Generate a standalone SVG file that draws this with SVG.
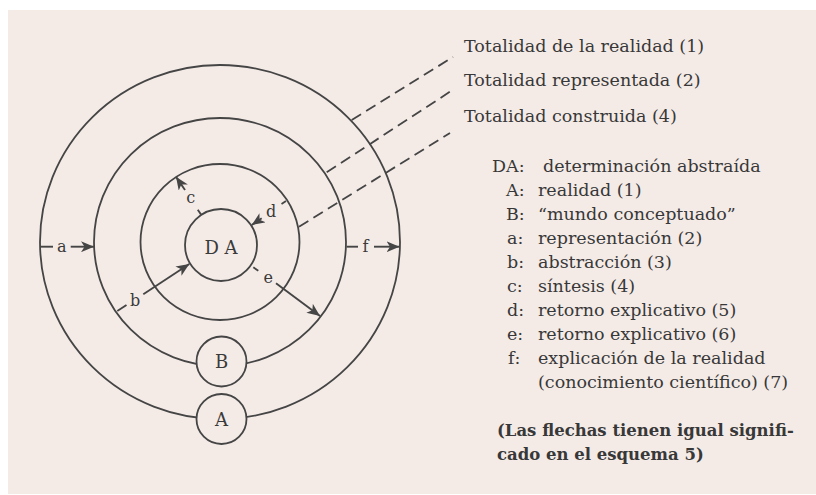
<svg xmlns="http://www.w3.org/2000/svg" width="816" height="495" viewBox="0 0 816 495">
<style>
.ring{fill:none;stroke:#454545;stroke-width:1.8}
.node{fill:#f4ebe7;stroke:#454545;stroke-width:1.8}
.lbl{font-family:"DejaVu Serif","Liberation Serif",serif;font-size:18px;fill:#3a3a3a;text-anchor:middle}
.conn{stroke:#454545;stroke-width:1.9;fill:none}
.dash{stroke:#454545;stroke-width:1.8;fill:none;stroke-dasharray:11 6}
.small{font-family:"DejaVu Serif","Liberation Serif",serif;font-size:16px;fill:#3a3a3a;text-anchor:middle}
.txt{font-family:"DejaVu Serif","Liberation Serif",serif;font-size:17.5px;fill:#383838}
.bold{font-family:"DejaVu Serif","Liberation Serif",serif;font-size:16.5px;font-weight:bold;fill:#383838}
</style>
<defs>
<marker id="ah" markerUnits="userSpaceOnUse" markerWidth="14" markerHeight="11" refX="13" refY="5.5" orient="auto">
<path d="M0,0 L13,5.5 L0,11 L3.5,5.5 z" fill="#454545"/>
</marker>
</defs>
<rect x="0" y="0" width="816" height="495" fill="#ffffff"/>
<rect x="8" y="10" width="808" height="484" fill="#f4ebe7"/>

<g id="ring-outer"><ellipse class="ring" cx="220" cy="242" rx="180" ry="177"/></g>
<g id="ring-second"><ellipse class="ring" cx="220" cy="242" rx="126" ry="124"/></g>
<g id="ring-third"><ellipse class="ring" cx="220" cy="242" rx="79.5" ry="78"/></g>

<g id="connectors">
<line class="dash" x1="351.7" y1="120" x2="453" y2="57"/>
<line class="dash" x1="326.7" y1="172.3" x2="450" y2="91.7"/>
<line class="dash" x1="299" y1="226.7" x2="450" y2="133"/>
<line class="conn" x1="40.7" y1="246.7" x2="53" y2="246.7"/>
<line class="conn" x1="70.7" y1="246.7" x2="94" y2="246.7" marker-end="url(#ah)"/>
<line class="conn" x1="346.5" y1="246.7" x2="358" y2="246.7"/>
<line class="conn" x1="374" y1="246.7" x2="399.5" y2="246.7" marker-end="url(#ah)"/>
<line class="conn" x1="117.3" y1="311" x2="126.5" y2="305"/>
<line class="conn" x1="143.3" y1="294.3" x2="189.3" y2="264" marker-end="url(#ah)"/>
<line class="conn" x1="201" y1="214.5" x2="197.8" y2="209.8"/>
<line class="conn" x1="185" y1="190" x2="176" y2="176.7" marker-end="url(#ah)"/>
<line class="conn" x1="286" y1="201" x2="281.5" y2="204"/>
<line class="conn" x1="261.7" y1="218.3" x2="251.7" y2="225" marker-end="url(#ah)"/>
<line class="conn" x1="253.3" y1="267.3" x2="258.3" y2="270.7"/>
<line class="conn" x1="276" y1="283.3" x2="320" y2="316" marker-end="url(#ah)"/>
<text class="small" x="61.7" y="251.5">a</text>
<text class="small" x="365.5" y="251.5">f</text>
<text class="small" x="135" y="305.5">b</text>
<text class="small" x="190.7" y="203">c</text>
<text class="small" x="271" y="217">d</text>
<text class="small" x="268.3" y="283">e</text>
</g>

<g id="node-DA"><circle class="node" cx="221" cy="245" r="36"/><text class="lbl" x="221" y="254">D A</text></g>
<g id="node-B"><circle class="node" cx="221.5" cy="361.5" r="25"/><text class="lbl" x="221.5" y="368">B</text></g>
<g id="node-A"><circle class="node" cx="221.5" cy="419" r="25"/><text class="lbl" x="221.5" y="425.5">A</text></g>

<g id="totalities">
<text class="txt" x="464" y="52">Totalidad de la realidad (1)</text>
<text class="txt" x="464" y="86">Totalidad representada (2)</text>
<text class="txt" x="464" y="122">Totalidad construida (4)</text>
</g>

<g id="legend">
<text class="txt" x="492" y="172">DA:</text><text class="txt" x="543" y="172">determinación abstraída</text>
<text class="txt" x="506" y="196">A:</text><text class="txt" x="538" y="196">realidad (1)</text>
<text class="txt" x="506" y="220">B:</text><text class="txt" x="538" y="220">“mundo conceptuado”</text>
<text class="txt" x="507" y="244">a:</text><text class="txt" x="538" y="244">representación (2)</text>
<text class="txt" x="507" y="268">b:</text><text class="txt" x="538" y="268">abstracción (3)</text>
<text class="txt" x="507" y="292">c:</text><text class="txt" x="538" y="292">síntesis (4)</text>
<text class="txt" x="507" y="316">d:</text><text class="txt" x="538" y="316">retorno explicativo (5)</text>
<text class="txt" x="507" y="340">e:</text><text class="txt" x="538" y="340">retorno explicativo (6)</text>
<text class="txt" x="508" y="364">f:</text><text class="txt" x="538" y="364">explicación de la realidad</text>
<text class="txt" x="538" y="388">(conocimiento científico) (7)</text>
<text class="bold" x="497" y="436">(Las flechas tienen igual signifi-</text>
<text class="bold" x="497" y="460">cado en el esquema 5)</text>
</g>
</svg>
